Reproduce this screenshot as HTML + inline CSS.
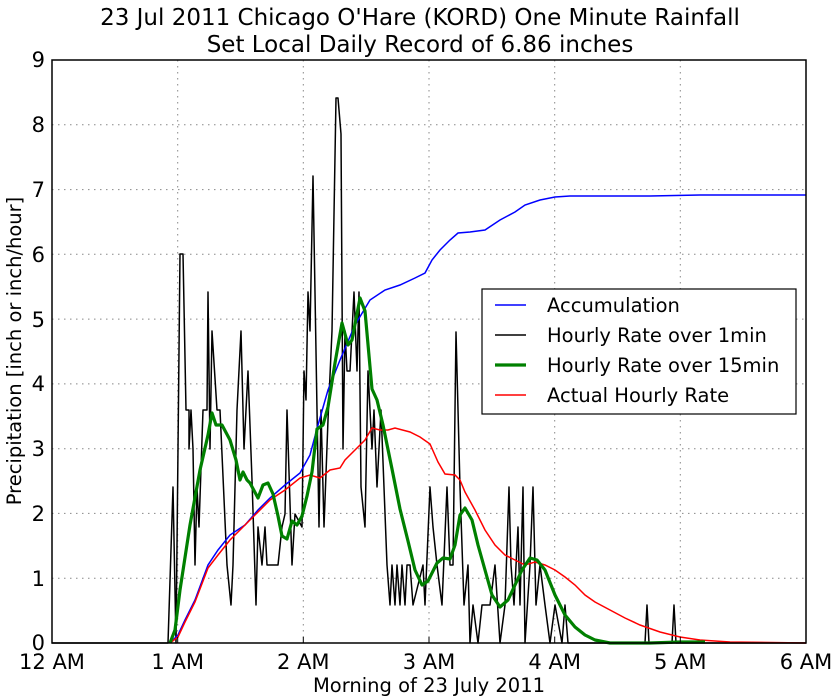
<!DOCTYPE html>
<html><head><meta charset="utf-8"><style>
html,body{margin:0;padding:0;background:#fff}
svg{display:block;font-family:"DejaVu Sans","Liberation Sans",sans-serif}
</style></head><body>
<svg width="835" height="700" viewBox="0 0 835 700" xmlns="http://www.w3.org/2000/svg">
<rect width="835" height="700" fill="#fff"/>
<text x="420" y="25" font-size="23" text-anchor="middle">23 Jul 2011 Chicago O'Hare (KORD) One Minute Rainfall</text>
<text x="420" y="52" font-size="23" text-anchor="middle">Set Local Daily Record of 6.86 inches</text>
<g stroke="#888" stroke-width="1" stroke-dasharray="1.5,4.5">
<line x1="177.7" y1="60" x2="177.7" y2="643"/><line x1="303.3" y1="60" x2="303.3" y2="643"/><line x1="429" y1="60" x2="429" y2="643"/><line x1="554.7" y1="60" x2="554.7" y2="643"/><line x1="680.3" y1="60" x2="680.3" y2="643"/>
<line x1="52" y1="578.2" x2="806" y2="578.2"/><line x1="52" y1="513.4" x2="806" y2="513.4"/><line x1="52" y1="448.7" x2="806" y2="448.7"/><line x1="52" y1="383.9" x2="806" y2="383.9"/><line x1="52" y1="319.1" x2="806" y2="319.1"/><line x1="52" y1="254.3" x2="806" y2="254.3"/><line x1="52" y1="189.6" x2="806" y2="189.6"/><line x1="52" y1="124.8" x2="806" y2="124.8"/>
</g>
<polyline fill="none" stroke="#000" stroke-width="1.5" stroke-linejoin="round" points="52,643 168,643 173,487 176,643 180,254 183,254 186,410 189,410 189,449 191,410 193,449 195,565 197,487 199,527 203,410 207,410 208,292 210,449 212,331 217,410 220,410 227,565 231,605 233,565 237,410 241,331 244,449 248,371 252,480 256,605 258,527 262,565 265,527 267,565 278,565 282,527 285,514 287,410 292,565 295,514 302,527 304,371 306,400 308,292 310,331 313,176 317,410 319,527 321,410 324,527 328,420 332,331 336,98 338,98 341,134 343,449 345,331 347,371 350,371 354,292 357,371 359,292 361,487 365,527 368,371 372,449 374,410 377,487 381,410 387,565 390,605 392,565 395,605 397,565 400,605 402,565 405,605 407,565 410,565 413,605 423,565 425,605 430,487 433,527 437,565 442,605 447,487 450,565 453,565 456,332 460,487 464,605 468,565 470,643 473,605 478,643 482,605 490,605 495,565 500,643 505,605 509,487 511,565 514,605 518,527 520,605 523,487 525,643 530,565 533,487 536,605 540,565 545,605 550,643 555,605 562,643 565,605 568,643 645,643 647,605 649,643 672,643 674,605 676,643 806,643"/>
<polyline fill="none" stroke="#0000ff" stroke-width="1.5" points="170,643 178,635 185,620 195,600 208,565 218,550 230,535 245,525 258,510 270,498 285,485 300,473 310,455 318,425 328,390 340,360 355,325 370,300 385,290 400,285 415,278 425,273 432,260 440,250 450,240 458,233 470,232 485,230 500,220 515,212 525,205 540,200 555,197 570,196 650,196 700,195 806,195"/>
<polyline fill="none" stroke="#ff0000" stroke-width="1.5" points="170,643 178,637 185,622 195,602 208,568 218,555 230,540 245,525 258,512 270,500 285,490 300,478 310,475 320,478 330,470 340,468 345,460 355,450 365,440 372,428 380,430 388,430 395,428 410,432 420,437 430,444 438,462 445,474 455,475 460,480 465,492 475,510 485,530 495,545 505,555 515,560 525,565 535,562 545,565 555,570 565,577 575,585 585,595 595,602 610,610 625,618 640,625 660,632 680,637 700,640 730,642 806,643"/>
<polyline fill="none" stroke="#008000" stroke-width="3.2" stroke-linejoin="round" points="170,643 175,630 180,590 190,525 200,470 208,435 212,413 216,425 222,425 230,440 236,460 240,480 243,472 247,480 250,483 258,498 263,485 268,483 273,494 278,516 282,536 287,539 292,521 297,525 302,516 307,496 312,472 317,429 323,425 328,407 335,363 342,323 348,345 352,340 360,298 365,311 372,389 377,400 383,425 392,469 400,509 408,541 415,570 422,585 428,581 437,563 443,558 450,559 455,545 460,515 465,508 472,520 478,545 485,570 492,595 500,607 508,600 515,585 522,570 530,558 537,560 545,570 555,595 565,615 575,627 585,635 595,640 610,643 650,643 680,642 705,642"/>
<rect x="52" y="60" width="754" height="583" fill="none" stroke="#000" stroke-width="1.5"/>
<g stroke="#000" stroke-width="1">
<line x1="177.7" y1="643" x2="177.7" y2="637"/><line x1="303.3" y1="643" x2="303.3" y2="637"/><line x1="429" y1="643" x2="429" y2="637"/><line x1="554.7" y1="643" x2="554.7" y2="637"/><line x1="680.3" y1="643" x2="680.3" y2="637"/>
</g>
<g font-size="21" text-anchor="end">
<text x="45" y="650">0</text><text x="45" y="586">1</text><text x="45" y="521">2</text><text x="45" y="456">3</text><text x="45" y="391">4</text><text x="45" y="327">5</text><text x="45" y="262">6</text><text x="45" y="197">7</text><text x="45" y="132">8</text><text x="45" y="67">9</text>
</g>
<g font-size="21" text-anchor="middle">
<text x="52" y="669">12 AM</text><text x="177.7" y="669">1 AM</text><text x="303.3" y="669">2 AM</text><text x="429" y="669">3 AM</text><text x="554.7" y="669">4 AM</text><text x="680.3" y="669">5 AM</text><text x="806" y="669">6 AM</text>
</g>
<text x="429" y="692" font-size="19.5" text-anchor="middle">Morning of 23 July 2011</text>
<text transform="translate(21,351) rotate(-90)" font-size="19.5" text-anchor="middle">Precipitation [inch or inch/hour]</text>
<rect x="482" y="289" width="314" height="125" fill="#fff" stroke="#000" stroke-width="1.2"/>
<line x1="495" y1="305" x2="526" y2="305" stroke="#0000ff" stroke-width="1.5"/>
<line x1="495" y1="335" x2="526" y2="335" stroke="#000" stroke-width="1.5"/>
<line x1="495" y1="365" x2="526" y2="365" stroke="#008000" stroke-width="3.2"/>
<line x1="495" y1="395" x2="526" y2="395" stroke="#ff0000" stroke-width="1.5"/>
<g font-size="19.5">
<text x="547" y="312">Accumulation</text>
<text x="547" y="342">Hourly Rate over 1min</text>
<text x="547" y="372">Hourly Rate over 15min</text>
<text x="547" y="402">Actual Hourly Rate</text>
</g>
</svg>
</body></html>
